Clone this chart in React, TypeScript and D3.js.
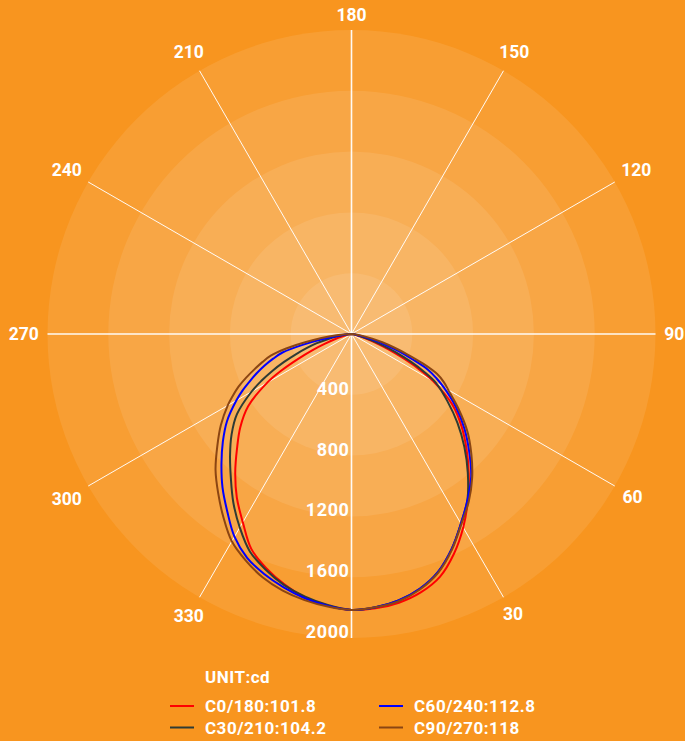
import React from "react";
import * as d3 from "d3";

// gamma angles (deg from nadir) and intensities in cd
const gammas = [0, 5, 10, 15, 20, 25, 30, 35, 40, 45, 50, 55, 60, 62.5, 65, 67.5, 70, 72.5, 75, 77.5, 80, 85, 90];

const c0 = [1815, 1812, 1795, 1760, 1700, 1595, 1470, 1335, 1200, 1070, 945, 810, 620, 500, 370, 260, 170, 100, 55, 30, 15, 0, 0];
const c180 = [1815, 1795, 1760, 1705, 1640, 1560, 1430, 1315, 1190, 1065, 955, 830, 640, 520, 390, 280, 185, 115, 65, 35, 15, 0, 0];
const c30 = [1815, 1805, 1780, 1735, 1665, 1560, 1440, 1330, 1190, 1050, 910, 770, 640, 540, 430, 320, 215, 130, 70, 35, 15, 0, 0];
const c210 = [1815, 1790, 1755, 1710, 1650, 1580, 1470, 1355, 1235, 1130, 1030, 920, 760, 670, 575, 480, 390, 310, 240, 165, 100, 25, 0];
const c60 = [1815, 1805, 1780, 1735, 1665, 1560, 1440, 1331, 1225, 1095, 970, 840, 700, 630, 555, 430, 330, 230, 150, 80, 35, 5, 0];
const c240 = [1815, 1795, 1765, 1725, 1680, 1625, 1540, 1425, 1320, 1210, 1105, 1000, 875, 810, 740, 675, 610, 540, 470, 330, 190, 50, 0];
const c90 = [1815, 1805, 1785, 1740, 1670, 1565, 1445, 1345, 1235, 1115, 995, 860, 735, 685, 620, 510, 390, 290, 210, 140, 80, 20, 0];
const c270 = [1815, 1800, 1778, 1748, 1705, 1645, 1575, 1470, 1365, 1265, 1153, 1050, 940, 880, 820, 750, 680, 615, 550, 440, 310, 100, 0];

const ringValues = [400, 800, 1200, 1600, 2000];
const angleLabels = [0, 30, 60, 90, 120, 150, 180, 210, 240, 270, 300, 330];
const legendNames = ["C0/180:101.8", "C30/210:104.2", "C60/240:112.8", "C90/270:118"];
const colors = ["#ff0000", "#2f3b35", "#0000ff", "#8b4513"];
const rightSides = [c0, c30, c60, c90];
const leftSides = [c180, c210, c240, c270];

const W = 685;
const H = 741;
const cx = 351.5;
const cy = 334;
const R = 304;
const font = "Roboto, 'Noto Sans', sans-serif";

const rScale = d3.scaleLinear().domain([0, 2000]).range([0, R]);
const rad = (deg: number) => (deg * Math.PI) / 180;

const line = d3
  .lineRadial<[number, number]>()
  .angle((d) => d[0])
  .radius((d) => rScale(d[1]))
  .curve(d3.curveCatmullRom.alpha(0.5));

export default function App() {
  const curves = rightSides.map((right, k) => {
    const left = leftSides[k];
    const pts: [number, number][] = [];
    for (let i = gammas.length - 1; i >= 0; i--) pts.push([Math.PI + rad(gammas[i]), left[i]]);
    for (let i = 1; i < gammas.length; i++) pts.push([Math.PI - rad(gammas[i]), right[i]]);
    return line(pts) || "";
  });

  return (
    <svg
      width={W}
      height={H}
      style={{ position: "absolute", left: 0, top: 0 }}
      fontFamily={font}
    >
      <rect width={W} height={H} fill="#f8951f" />
      <g transform={`translate(${cx},${cy})`}>
        {[...ringValues].reverse().map((v) => (
          <circle key={v} r={rScale(v)} fill="#ffffff" fillOpacity={0.09} />
        ))}
        {angleLabels.map((a) => {
          const t = rad(a);
          return (
            <line
              key={a}
              x1={0}
              y1={0}
              x2={R * Math.sin(t)}
              y2={R * Math.cos(t)}
              stroke="#ffffff"
              strokeWidth={a % 90 === 0 ? 1.6 : 1}
              strokeOpacity={0.95}
            />
          );
        })}
        {angleLabels
          .filter((a) => a !== 0)
          .map((a) => {
            const t = rad(a);
            const txt = String(a);
            const w = txt.length * 9.8;
            const rr = 313 + (w / 2) * Math.abs(Math.sin(t)) + 6 * Math.abs(Math.cos(t));
            return (
              <text
                key={a}
                x={rr * Math.sin(t)}
                y={rr * Math.cos(t)}
                dy="0.36em"
                textAnchor="middle"
                fill="#ffffff"
                fontSize={17.5}
                fontWeight={700}
              >
                {txt}
              </text>
            );
          })}
        {curves.map((d, k) => (
          <path key={k} d={d} fill="none" stroke={colors[k]} strokeWidth={2} strokeLinejoin="round" />
        ))}
        {ringValues.map((v) => (
          <text
            key={v}
            x={-2}
            y={rScale(v)}
            textAnchor="end"
            fill="#ffffff"
            fontSize={18}
            fontWeight={700}
            letterSpacing={0.6}
          >
            {v}
          </text>
        ))}
      </g>
      <text x={205} y={683} fill="#ffffff" fontSize={17} fontWeight={700} letterSpacing={0.5}>
        UNIT:cd
      </text>
      {legendNames.map((name, k) => {
        const col = Math.floor(k / 2);
        const row = k % 2;
        const x0 = col === 0 ? 170 : 379;
        const y0 = row === 0 ? 706 : 727.5;
        return (
          <g key={name}>
            <line x1={x0} x2={x0 + 24} y1={y0} y2={y0} stroke={colors[k]} strokeWidth={2} />
            <text x={x0 + 35} y={y0 + 6} fill="#ffffff" fontSize={17} fontWeight={700} letterSpacing={0.5}>
              {name}
            </text>
          </g>
        );
      })}
    </svg>
  );
}
